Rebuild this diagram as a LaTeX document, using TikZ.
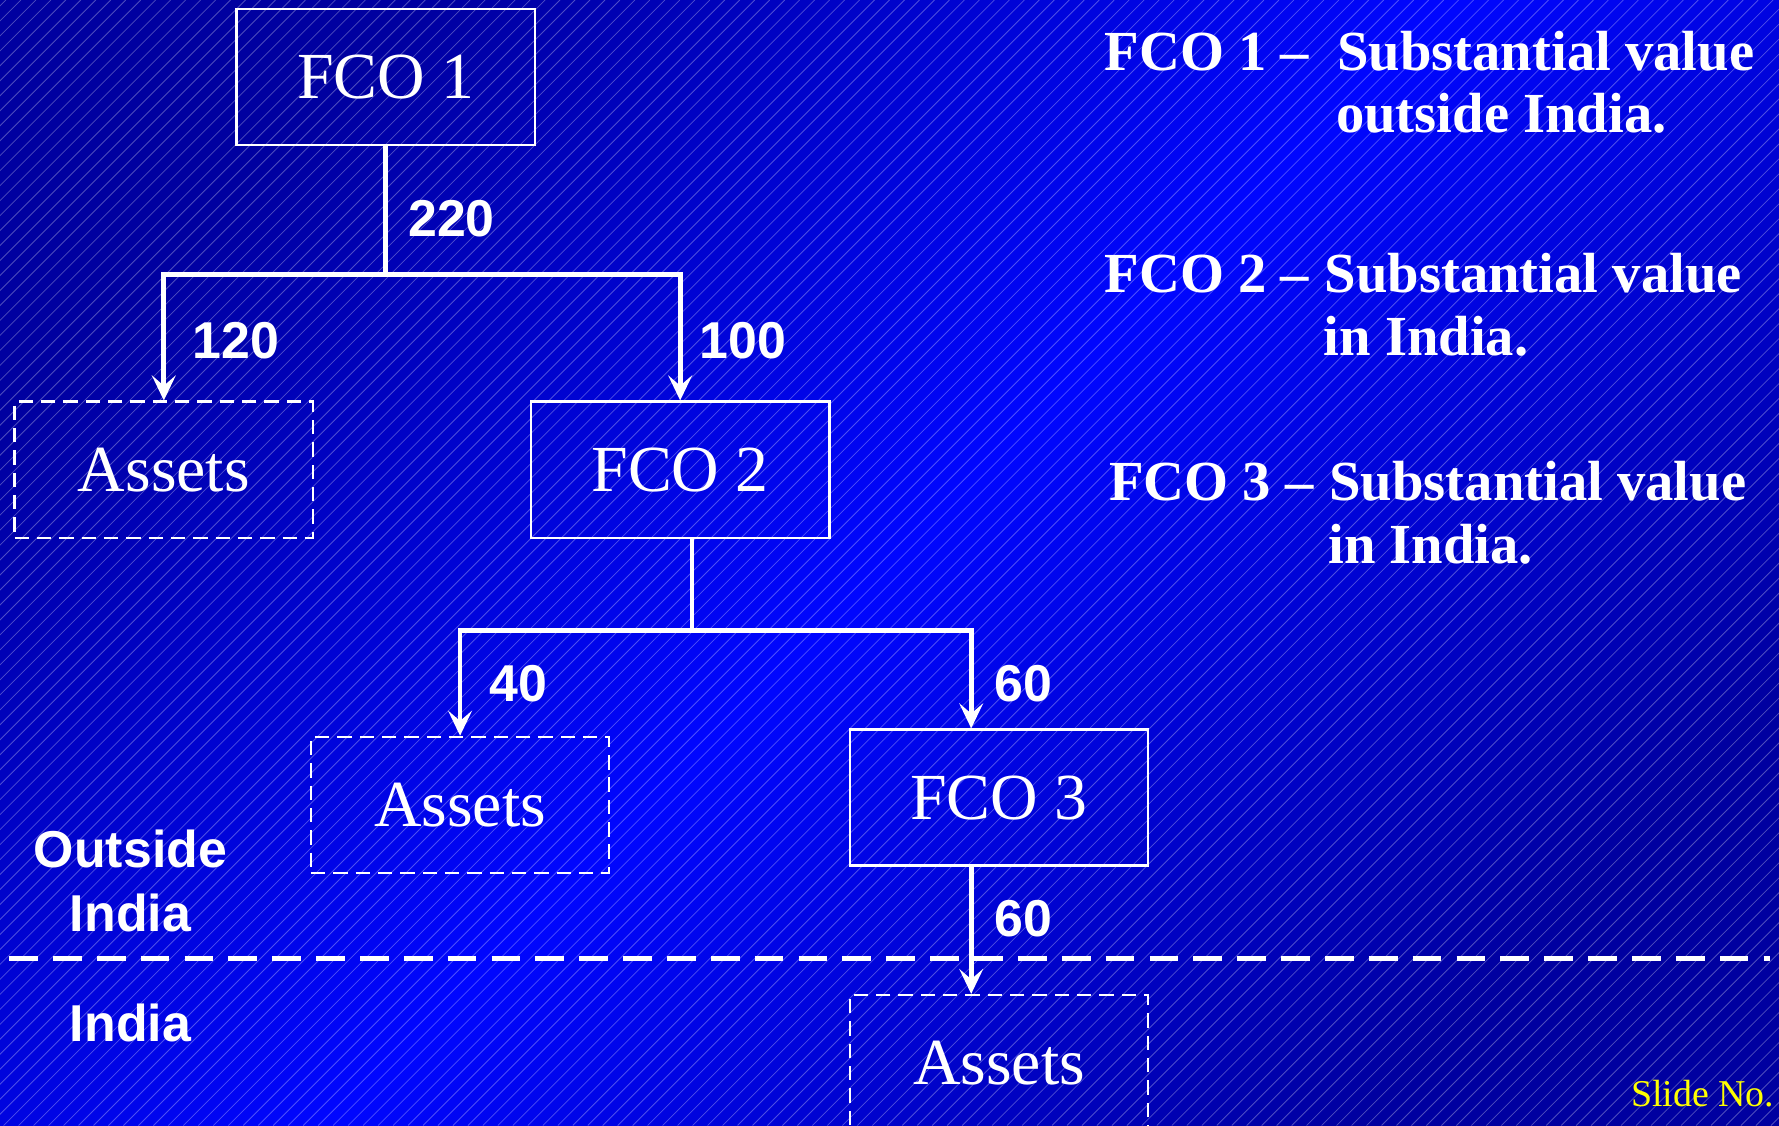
\documentclass[tikz,border=0pt]{standalone}
\usepackage{fontspec}
\setmainfont{Liberation Serif}
\setsansfont{Liberation Sans}
\usetikzlibrary{positioning,arrows.meta}
\definecolor{slidedark}{RGB}{0,0,160}
\definecolor{slideblue}{RGB}{0,6,255}
\definecolor{slideyellow}{RGB}{255,255,0}

\begin{document}
\begin{tikzpicture}[
>={Stealth[length=2.2mm,width=2.1mm,inset=0.9mm]},
fcobox/.style={rectangle, draw=white, line width=0.6pt, minimum width=2.63cm, minimum height=1.2cm, text=white, font=\rmfamily\fontsize{16.5}{19}\selectfont},
assetbox/.style={fcobox, dash pattern=on 3.6pt off 2pt},
flow/.style={draw=white, line width=1.2pt},
amount/.style={text=white, font=\sffamily\bfseries\fontsize{13}{16.2}\selectfont},
note/.style={text=white, anchor=base west, inner sep=0pt, font=\rmfamily\bfseries\fontsize{14.2}{17}\selectfont}
]
\useasboundingbox (0,0) rectangle (15.68,9.92);
\clip (0,0) rectangle (15.68,9.92);
\shade[top color=slidedark, bottom color=slidedark, middle color=slideblue, shading angle=45] (0,0) rectangle (15.68,9.92);
\foreach \s in {-10,-9.868,...,15.8}
  \draw[white, line width=0.2pt, draw opacity=0.3] (\s,0) -- ++(9.92,9.92);

\node[fcobox] (FCO1) at (3.40,9.24) {FCO 1};
\node[fcobox] (FCO2) at (5.995,5.78) {FCO 2};
\node[assetbox] (A1) [left=1.9cm of FCO2] {Assets};
\node[assetbox] (A2) at (4.055,2.825) {Assets};
\node[fcobox] (FCO3) at (8.805,2.89) {FCO 3};
\node[assetbox] (A3) [below=1.12cm of FCO3] {Assets};

\node[amount] (l220) at (3.98,7.99) {220};
\node[amount] (l120) at (2.08,6.92) {120};
\node[amount] (l100) at (6.55,6.92) {100};
\node[amount] (l40) at (4.57,3.89) {40};
\node[amount] (l60a) at (9.02,3.89) {60};
\node[amount] (l60b) at (9.02,1.82) {60};

\node[amount, align=center] (outside) at (1.15,2.155) {Outside\\India};
\node[amount] (india) at (1.15,0.90) {India};

\coordinate (wL) at (0.08,1.47);
\coordinate (wR) at (15.60,1.47);
\draw[flow, dash pattern=on 7.2pt off 3.8pt] (wL) -- (wR);

\coordinate (j1) at (3.40,7.50);
\draw[flow] (FCO1) -- (j1);
\draw[flow,->] (j1) -| (A1.north);
\draw[flow,->] (j1) -| (FCO2.north);

\coordinate (j2) at (6.10,4.36);
\draw[flow] (FCO2.south -| j2) -- (j2);
\draw[flow,->] (j2) -| (A2.north);
\draw[flow,->] (j2) -| ([xshift=-2.45mm]FCO3.north);
\draw[flow,->] ([xshift=-2.45mm]FCO3.south) -- ([xshift=-2.45mm]A3.north);

\node[note] (n1a) at (9.73,9.30) {FCO 1 –};
\node[note] (n1b) at (11.78,9.30) {Substantial value};
\node[note] (n1c) at (11.77,8.75) {outside India.};
\node[note] (n2a) at (9.73,7.34) {FCO 2 –};
\node[note] (n2b) at (11.67,7.34) {Substantial value};
\node[note] (n2c) at (11.66,6.79) {in India.};
\node[note] (n3a) at (9.77,5.51) {FCO 3 –};
\node[note] (n3b) at (11.71,5.51) {Substantial value};
\node[note] (n3c) at (11.70,4.95) {in India.};

\node[text=slideyellow, anchor=base west, inner sep=0pt, font=\rmfamily\fontsize{9.5}{11}\selectfont] (slideno) at (14.37,0.17) {Slide No.};
\end{tikzpicture}
\end{document}
